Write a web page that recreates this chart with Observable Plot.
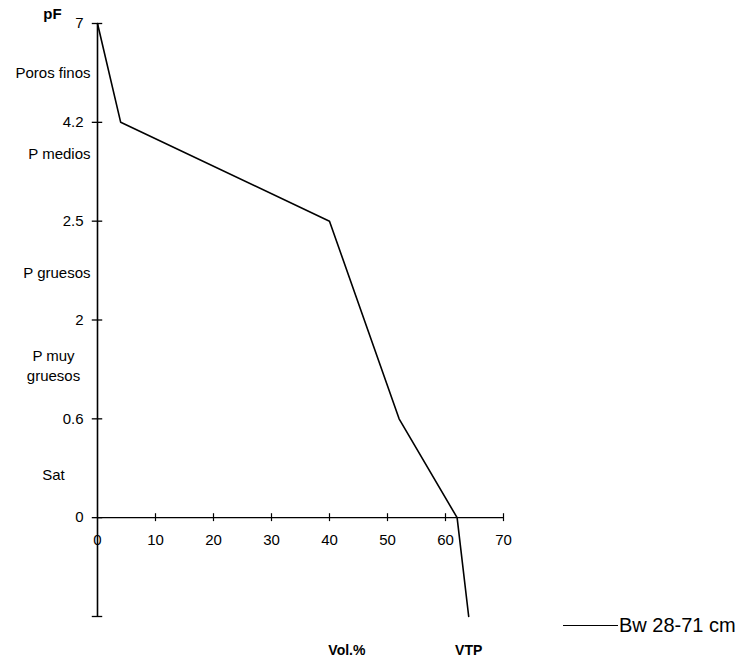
<!DOCTYPE html>
<html><head><meta charset="utf-8">
<script src="https://cdn.jsdelivr.net/npm/d3@7"></script>
<script src="https://cdn.jsdelivr.net/npm/@observablehq/plot@0.6"></script>
<style>
body{margin:0;background:#fff;}
#wrap{position:relative;width:744px;height:661px;font-family:"Liberation Sans",Arial,sans-serif;}
#legend{position:absolute;left:563px;top:613px;height:24px;display:flex;align-items:center;font-size:20px;color:#000;white-space:nowrap;}
#legend .sw{display:inline-block;width:55px;height:0;border-top:1.3px solid #000;margin-right:1px;}
</style></head><body><div id="wrap"></div>
<script>
// pF tick labels and their (evenly spaced) positions on the vertical axis
const pfLabels = ["7", "4.2", "2.5", "2", "0.6", "0"];
const pfPos = [5, 4, 3, 2, 1, 0];
// Retention curve: volume % at each pF position (last point = VTP end)
const volume = [0, 4, 40, 46, 52, 62, 64];
const curvePos = [5, 4, 3, 2, 1, 0, -1];
// x axis ticks
const xTicks = [0, 10, 20, 30, 40, 50, 60, 70];
// pore class labels
const zoneLabelsRight = ["Poros finos", "P medios", "P gruesos"];
const zonePosRight = [4.5, 3.68, 2.47];
const zoneLabelsMid = ["P muy\ngruesos", "Sat"];
const zonePosMid = [1.55, 0.45];
const seriesName = "Bw 28-71 cm";
const yTitle = "pF";
const xTitle = "Vol.%";
const vtpLabel = "VTP";

const pts = volume.map((v, i) => ({x: v, y: curvePos[i]}));
const font = "Liberation Sans, Arial, sans-serif";

const chart = Plot.plot({
  width: 744, height: 661,
  marginLeft: 97, marginRight: 241, marginTop: 23, marginBottom: 45,
  x: {domain: [0, 70], axis: null},
  y: {domain: [-1, 5], axis: null},
  style: {fontFamily: font, fontSize: "15px", color: "#000", background: "#fff", overflow: "visible"},
  marks: [
    Plot.ruleX([0], {y1: -1, y2: 5, stroke: "#000", strokeWidth: 1.6}),
    Plot.ruleY([0], {x1: 0, x2: 70, stroke: "#000", strokeWidth: 1.3}),
    Plot.ruleY([...pfPos, -1], {x1: -0.9, x2: 0.9, stroke: "#000", strokeWidth: 1.3}),
    Plot.ruleX(xTicks.slice(1), {y1: -0.04, y2: 0.04, stroke: "#000", strokeWidth: 1.2}),
    Plot.text(pfPos, {x: 0, y: d => d, text: (d, i) => pfLabels[i], dx: -14, textAnchor: "end", fill: "#000"}),
    Plot.text(xTicks, {x: d => d, y: 0, dy: 23, text: d => String(d), fill: "#000"}),
    Plot.text(zonePosRight, {x: 0, y: d => d, text: (d, i) => zoneLabelsRight[i], dx: -7, textAnchor: "end", fill: "#000"}),
    Plot.text(zonePosMid, {x: 0, y: d => d, text: (d, i) => zoneLabelsMid[i], dx: -44, textAnchor: "middle", lineHeight: 1.33, fill: "#000"}),
    Plot.line(pts, {x: "x", y: "y", stroke: "#000", strokeWidth: 1.6}),
    Plot.text([yTitle], {x: 0, y: 5, dx: -45, dy: -9, text: d => d, fontWeight: "bold", fill: "#000"}),
    Plot.text([xTitle, vtpLabel], {x: (d, i) => [43, 64][i], y: -1, dy: 34, text: d => d, fontWeight: "bold", fontSize: 14, fill: "#000"})
  ]
});
const wrap = document.getElementById("wrap");
wrap.appendChild(chart);
const lg = document.createElement("div");
lg.id = "legend";
lg.innerHTML = '<span class="sw"></span><span></span>';
lg.lastChild.textContent = seriesName;
wrap.appendChild(lg);
</script>
</body></html>
